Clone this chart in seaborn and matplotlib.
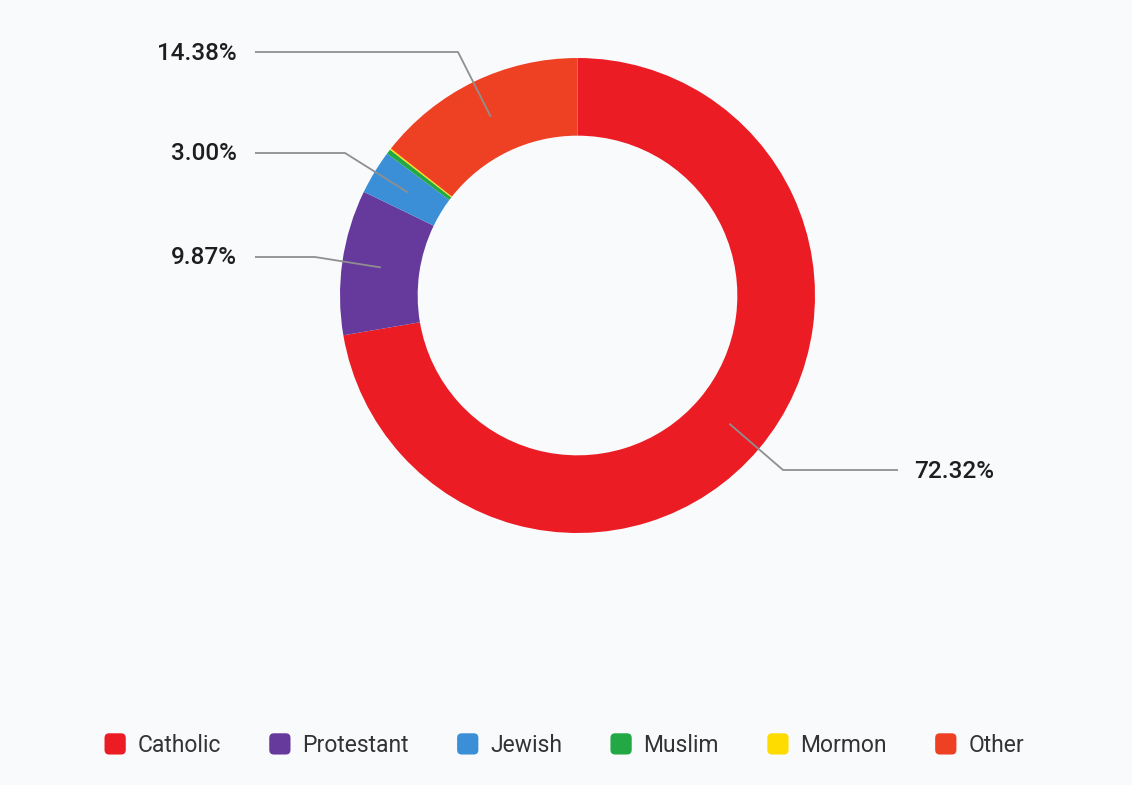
import numpy as np
import matplotlib
matplotlib.use("Agg")
import matplotlib.pyplot as plt
from matplotlib.patches import FancyBboxPatch, Patch
from matplotlib.legend_handler import HandlerPatch
import seaborn as sns

# Religious affiliation shares (%)
religions = ["Catholic", "Protestant", "Jewish", "Muslim", "Mormon", "Other"]
shares = [72.32, 9.87, 3.00, 0.33, 0.10, 14.38]
colors = ["#ec1c24", "#663a9c", "#3b8fd7", "#22a845", "#ffdc00", "#ee4123"]
labelled = ["Catholic", "Protestant", "Jewish", "Other"]

BG = "#f8fafc"
sns.set_theme(style="white", rc={"figure.facecolor": BG, "axes.facecolor": BG})
plt.rcParams["font.family"] = ["Roboto", "DejaVu Sans"]

W, H = 1132, 785
CX, CY, R = 577.5, 295.5, 237.5   # donut centre and outer radius in pixels

fig = plt.figure(figsize=(W / 100, H / 100), dpi=100)
ax = fig.add_axes([0, 0, 1, 1])

ring = 0.327
wedges, _ = ax.pie(shares, colors=colors, startangle=90, counterclock=False,
                   radius=1, wedgeprops=dict(width=ring, linewidth=0))

# pie() resets the limits, so place the donut afterwards
ax.set_xlim(-CX / R, (W - CX) / R)
ax.set_ylim((CY - H) / R, CY / R)
ax.set_aspect("equal")
ax.axis("off")


def px(x, y):
    """Pixel position -> data coordinates of the donut axes."""
    return (x - CX) / R, (CY - y) / R


# Leader-line layout: (label y, elbow x, line end x, text x, alignment)
layout = {
    "Other":      (52, 458, 255, 237, "right"),
    "Jewish":     (153, 345, 255, 237, "right"),
    "Protestant": (257, 315, 255, 237, "right"),
    "Catholic":   (470, 783, 898, 914, "left"),
}

for name, w in zip(religions, wedges):
    if name not in labelled:
        continue
    val = shares[religions.index(name)]
    mid = np.deg2rad((w.theta1 + w.theta2) / 2)
    r_mid = 1 - ring / 2
    ax_, ay_ = r_mid * np.cos(mid), r_mid * np.sin(mid)
    ly, ex, lx, tx, ha = layout[name]
    ex_d, ly_d = px(ex, ly)
    lx_d, _ = px(lx, ly)
    ax.plot([ax_, ex_d, lx_d], [ay_, ly_d, ly_d], color="#8f8f8f", lw=1.3,
            solid_capstyle="butt", zorder=3)
    tx_d, ty_d = px(tx, ly + 1)
    ax.text(tx_d, ty_d, f"{val:.2f}%", ha=ha, va="center", fontsize=17.5,
            fontweight="medium", color="#1e1e1e", zorder=4)


class RoundedSquareHandler(HandlerPatch):
    def create_artists(self, legend, orig_handle, xdescent, ydescent,
                       width, height, fontsize, trans):
        s = min(width, height)
        x0 = -xdescent + (width - s) / 2
        y0 = -ydescent + (height - s) / 2
        p = FancyBboxPatch((x0, y0), s, s,
                           boxstyle=f"round,pad=0,rounding_size={s * 0.22}",
                           facecolor=orig_handle.get_facecolor(),
                           edgecolor="none", transform=trans)
        return [p]


handles = [Patch(facecolor=c, label=n) for n, c in zip(religions, colors)]
fig.legend(handles=handles, loc="center", ncol=6, frameon=False,
           bbox_to_anchor=(563.5 / W, 1 - 745 / H), fontsize=16.5,
           handlelength=1.05, handleheight=1.05, handletextpad=0.45,
           columnspacing=2.05, labelcolor="#333333",
           handler_map={Patch: RoundedSquareHandler()})

fig.savefig("out.png", dpi=100, facecolor=BG)
